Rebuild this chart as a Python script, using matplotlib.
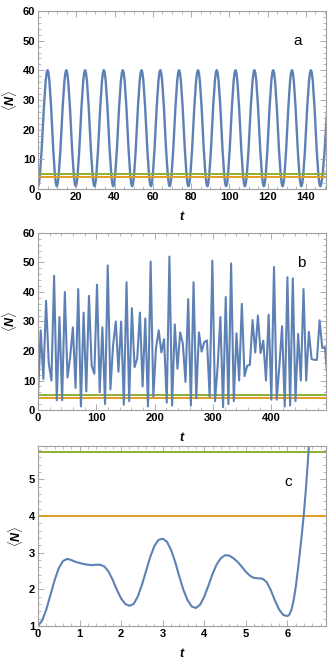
import matplotlib
matplotlib.use("Agg")
import matplotlib.pyplot as plt
from matplotlib.path import Path
from matplotlib.patches import PathPatch
from matplotlib.ticker import MultipleLocator
import numpy as np

plt.rcParams['font.family'] = ['Liberation Sans', 'DejaVu Sans']
plt.rcParams['font.weight'] = 'bold'
plt.rcParams['mathtext.fontset'] = 'custom'
plt.rcParams['mathtext.it'] = 'Liberation Sans:italic:bold'
plt.rcParams['mathtext.rm'] = 'Liberation Sans:bold'

BLUE = '#5e81b5'
ORANGE = '#e19c24'
GREEN = '#8fb032'
FRAME = '#a0a0a0'

# panel a: extrema of the oscillation (time, value)
a_times = [0.0, 5.0, 9.8, 14.8, 19.7, 24.6, 29.5, 34.4, 39.3, 44.3, 49.2, 54.1,
           59.0, 63.9, 68.8, 73.7, 78.6, 83.6, 88.5, 93.4, 98.3, 103.2, 108.1,
           113.1, 118.0, 122.9, 127.8, 132.7, 137.6, 142.6, 147.5, 153.5]
a_vals = [1, 40, 1, 40, 1, 40, 1, 40, 1, 40, 1, 40, 1, 40, 1, 40, 1, 40, 1, 40,
          1, 40, 1, 40, 1, 40, 1, 40, 1, 40, 1, 40]
a_levels = [4.0, 5.0]

# panel b: sampled values, step in t
b_step = 4.6
b_vals = [5, 27, 10.5, 37, 16, 10, 45.5, 3.3, 31.5, 3.3,
          40, 11, 18, 28, 7.5, 41, 1.2, 33, 6.3, 38.7,
          15, 12.3, 42.5, 6, 28, 2, 49, 7, 22, 30,
          13, 30, 1.8, 43.3, 3, 34.5, 14.5, 17.5, 33, 8,
          31, 1.2, 50.3, 4.5, 21, 27, 19.5, 24, 2.5, 52,
          1.5, 29, 14, 26.3, 22.5, 9.5, 37.6, 1.5, 43.3, 4,
          26.3, 19.8, 23, 23.6, 4.5, 50.6, 3, 15, 31.5, 1,
          38.3, 2, 49.7, 3, 26, 10, 36, 11.5, 15, 15.3,
          30.5, 19.5, 32, 19.3, 23.5, 10, 32.3, 3.5, 48.5, 3.5,
          15, 28.4, 1.2, 45, 1.5, 44.6, 3, 25.8, 10, 41,
          10, 26.5, 17.3, 17, 17, 30.4, 21, 21.3, 10]
b_levels = [4.0, 5.0]

# panel c
c_t = [0.0, 0.1, 0.2, 0.3, 0.4, 0.5, 0.6, 0.7, 0.8, 0.9, 1.0, 1.1, 1.2, 1.3,
       1.4, 1.5, 1.6, 1.7, 1.8, 1.9, 2.0, 2.1, 2.2, 2.3, 2.4, 2.5, 2.6, 2.7,
       2.8, 2.9, 3.0, 3.1, 3.2, 3.3, 3.4, 3.5, 3.6, 3.7, 3.8, 3.9, 4.0, 4.1,
       4.2, 4.3, 4.4, 4.5, 4.6, 4.7, 4.8, 4.9, 5.0, 5.1, 5.2, 5.3, 5.4, 5.5,
       5.6, 5.7, 5.8, 5.9, 6.0, 6.05, 6.1, 6.15, 6.2, 6.25, 6.3, 6.35, 6.4,
       6.45, 6.5, 6.55]
c_vals = [1.00, 1.15, 1.45, 1.85, 2.25, 2.58, 2.77, 2.83, 2.80, 2.75, 2.72,
          2.69, 2.67, 2.66, 2.67, 2.67, 2.62, 2.48, 2.25, 1.98, 1.75, 1.60,
          1.55, 1.60, 1.80, 2.12, 2.50, 2.88, 3.18, 3.35, 3.38, 3.30, 3.08,
          2.75, 2.35, 1.98, 1.70, 1.53, 1.49, 1.58, 1.80, 2.10, 2.42, 2.68,
          2.85, 2.93, 2.92, 2.85, 2.75, 2.62, 2.48, 2.37, 2.31, 2.30, 2.29,
          2.20, 1.98, 1.70, 1.45, 1.30, 1.27, 1.31, 1.45, 1.70, 2.05, 2.50,
          3.00, 3.52, 4.10, 4.80, 5.60, 6.50]
c_levels = [4.0, 5.745]


def smooth_path(ts, vs, k=0.3642):
    # cubic bezier segments with flat tangents at each extremum
    verts = [(ts[0], vs[0])]
    codes = [Path.MOVETO]
    for i in range(len(ts) - 1):
        dt = ts[i + 1] - ts[i]
        verts += [(ts[i] + k * dt, vs[i]), (ts[i + 1] - k * dt, vs[i + 1]),
                  (ts[i + 1], vs[i + 1])]
        codes += [Path.CURVE4] * 3
    return Path(verts, codes)


def style(ax, xlim, ylim, xmaj, xmin, ymaj, ymin, yticks=None):
    ax.set_xlim(*xlim)
    ax.set_ylim(*ylim)
    ax.xaxis.set_major_locator(MultipleLocator(xmaj))
    ax.xaxis.set_minor_locator(MultipleLocator(xmin))
    ax.yaxis.set_major_locator(MultipleLocator(ymaj))
    ax.yaxis.set_minor_locator(MultipleLocator(ymin))
    if yticks is not None:
        ax.set_yticks(yticks)
    ax.tick_params(which='both', direction='in', top=True, right=True,
                   color=FRAME, labelsize=8)
    ax.tick_params(which='major', length=4, width=0.6, pad=2)
    ax.tick_params(which='minor', length=2, width=0.5)
    for s in ax.spines.values():
        s.set_color(FRAME)
        s.set_linewidth(0.8)
    ax.set_xlabel(r'$t$', fontsize=9, labelpad=6)
    ax.set_ylabel(r'$\langle N\rangle$', fontsize=9, labelpad=3)


fig = plt.figure(figsize=(3.34, 6.67), dpi=100)
ax_a = fig.add_axes([0.1138, 0.7166, 0.8623, 0.2669])
ax_b = fig.add_axes([0.1138, 0.3853, 0.8623, 0.2654])
ax_c = fig.add_axes([0.1138, 0.0615, 0.8623, 0.2699])

# a
for lv, col in zip(a_levels, [ORANGE, GREEN]):
    ax_a.axhline(lv, color=col, lw=1.4)
ax_a.add_patch(PathPatch(smooth_path(a_times, a_vals), fill=False,
                         edgecolor=BLUE, lw=1.7))
style(ax_a, (0, 150.5), (0, 60), 20, 5, 10, 2)
ax_a.text(0.885, 0.81, 'a', transform=ax_a.transAxes, fontsize=11,
          fontweight='normal')

# b
for lv, col in zip(b_levels, [ORANGE, GREEN]):
    ax_b.axhline(lv, color=col, lw=1.4)
b_t = b_step * np.arange(len(b_vals))
ax_b.plot(b_t, b_vals, color=BLUE, lw=1.5)
style(ax_b, (0, 494), (0, 60), 100, 20, 10, 2)
ax_b.text(0.9, 0.81, 'b', transform=ax_b.transAxes, fontsize=11,
          fontweight='normal')

# c
for lv, col in zip(c_levels, [ORANGE, GREEN]):
    ax_c.axhline(lv, color=col, lw=1.4)
ax_c.plot(c_t, c_vals, color=BLUE, lw=1.5)
style(ax_c, (0, 6.93), (1, 5.91), 1, 0.2, 1, 0.2, yticks=[1, 2, 3, 4, 5])
ax_c.text(0.855, 0.78, 'c', transform=ax_c.transAxes, fontsize=11,
          fontweight='normal')

fig.savefig('out.png', dpi=100)
